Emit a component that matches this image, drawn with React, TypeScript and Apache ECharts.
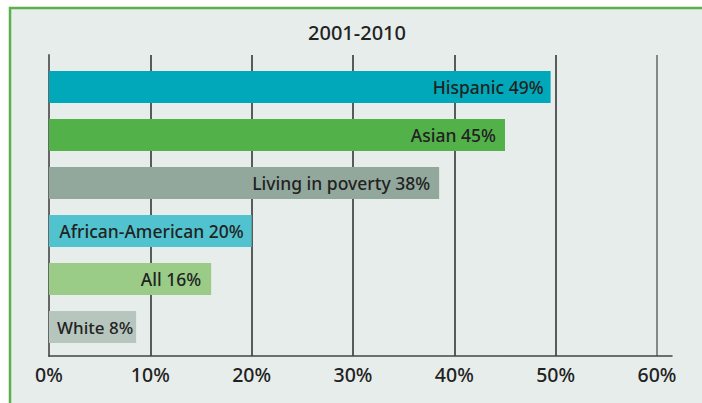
import React, { useEffect, useRef } from "react";
import * as echarts from "echarts";

const title = "2001-2010";
const categories = ["Hispanic", "Asian", "Living in poverty", "African-American", "All", "White"];
const barValues = [49.5, 45, 38.5, 20, 16, 8.6];
const statedPercents = [49, 45, 38, 20, 16, 8];
const barColors = ["#00a8b9", "#53b14a", "#92a89c", "#51c3cf", "#9acc88", "#b6c5bd"];
const labelGaps = [7, 9, 9, 8, 10, 3];
const tickValues = [0, 10, 20, 30, 40, 50, 60];

const FONT = "'Noto Sans', 'Open Sans', 'DejaVu Sans', sans-serif";

export default function App() {
  const ref = useRef<HTMLDivElement>(null);
  useEffect(() => {
    if (!ref.current) return;
    const chart = echarts.init(ref.current, null, { renderer: "svg" });
    const data = barValues.map((v, i) => ({
      value: v,
      itemStyle: { color: barColors[i] },
      label: {
        formatter: `${categories[i]} ${statedPercents[i]}%`,
        distance: labelGaps[i],
        fontSize: i === 5 ? 17 : 17.5,
      },
    }));
    chart.setOption({
      animation: false,
      backgroundColor: "#ffffff",
      graphic: [
        {
          type: "rect",
          z: -10,
          shape: { x: 10, y: 8, width: 760, height: 460 },
          style: { fill: "#e7edeb", stroke: "#5ab14c", lineWidth: 2.5 },
        },
        {
          type: "text",
          x: 357,
          y: 32,
          style: {
            text: title,
            fontFamily: FONT,
            fontSize: 20,
            fontWeight: 500,
            fill: "#222222",
            textAlign: "center",
            textVerticalAlign: "middle",
          },
        },
      ],
      grid: [
        { left: 49, top: 55, width: 608, height: 301, outerBoundsMode: "none" },
        { left: 49, top: 55, width: 623, height: 301, outerBoundsMode: "none" },
        { left: 49, top: 63, width: 608, height: 288, outerBoundsMode: "none" },
      ],
      xAxis: [
        {
          gridIndex: 0,
          type: "value",
          min: tickValues[0],
          max: tickValues[tickValues.length - 1],
          interval: 10,
          axisLine: { show: false },
          axisTick: { show: false },
          axisLabel: {
            formatter: "{value}%",
            margin: 8,
            fontSize: 19.5,
            fontWeight: 500,
            fontFamily: FONT,
            color: "#222222",
          },
          splitLine: {
            show: true,
            lineStyle: {
              color: ["#666666", "#2a2a2a", "#2a2a2a", "#2a2a2a", "#2a2a2a", "#2a2a2a", "#666666"],
              width: 1.5,
            },
          },
        },
        {
          gridIndex: 1,
          type: "value",
          min: 0,
          max: 61.5,
          axisLine: { show: true, lineStyle: { color: "#444444", width: 1.5 } },
          axisTick: { show: false },
          axisLabel: { show: false },
          splitLine: { show: false },
        },
        {
          gridIndex: 2,
          type: "value",
          min: 0,
          max: 60,
          show: false,
          splitLine: { show: false },
        },
      ],
      yAxis: [
        { gridIndex: 0, type: "category", data: categories, show: false },
        {
          gridIndex: 1,
          type: "category",
          data: categories,
          axisLine: { show: true, lineStyle: { color: "#666666", width: 2 } },
          axisTick: { show: false },
          axisLabel: { show: false },
          splitLine: { show: false },
        },
        { gridIndex: 2, type: "category", data: categories, inverse: true, show: false },
      ],
      series: [
        {
          type: "bar",
          xAxisIndex: 2,
          yAxisIndex: 2,
          barWidth: 32,
          data,
          label: {
            show: true,
            position: "insideRight",
            distance: 7,
            fontSize: 17.5,
            fontWeight: 500,
            fontFamily: FONT,
            color: "#222222",
          },
        },
      ],
    });
    return () => chart.dispose();
  }, []);
  return (
    <div
      ref={ref}
      style={{ position: "fixed", left: 0, top: 0, width: 702, height: 403 }}
    />
  );
}
